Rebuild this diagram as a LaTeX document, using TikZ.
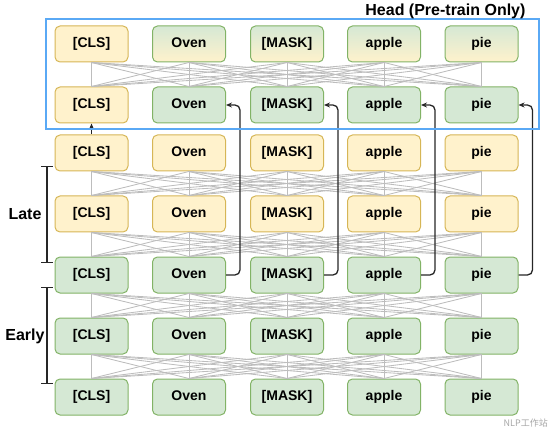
\documentclass[tikz,border=0pt]{standalone}
\usepackage{fontspec}
\setmainfont{Liberation Sans}
\newfontfamily\cjkfont{Noto Sans CJK SC}
\usetikzlibrary{arrows.meta}
\definecolor{yfill}{HTML}{FFF2CC}
\definecolor{ydraw}{HTML}{D6B656}
\definecolor{gfill}{HTML}{D5E8D4}
\definecolor{gdraw}{HTML}{82B366}
\definecolor{headblue}{HTML}{5AA9F5}
\definecolor{linkgray}{HTML}{BDBDBD}
\definecolor{arrowc}{HTML}{262626}
\tikzset{
  tok/.style={rounded corners=5pt, minimum width=73pt, minimum height=36pt,
    line width=1pt, inner sep=0pt, text height=10.5pt, text depth=3pt,
    font=\fontsize{14}{16}\selectfont\bfseries},
  ytok/.style={tok, fill=yfill, draw=ydraw},
  gtok/.style={tok, fill=gfill, draw=gdraw},
  mtok/.style={tok, top color=gfill, bottom color=yfill, draw=gdraw},
  link/.style={draw=linkgray, line width=0.85pt},
  arr/.style={draw=arrowc, line width=1.3pt, rounded corners=5pt,
    -{Stealth[length=6pt,width=5pt]}},
  brk/.style={draw=arrowc, line width=1.1pt,
    {Bar[width=12pt]}-{Bar[width=12pt]}},
  headbox/.style={draw=headblue, line width=1.3pt},
  lbl/.style={font=\fontsize{16}{18}\selectfont\bfseries}
}
\begin{document}
\begin{tikzpicture}[x=1pt,y=-1pt]
\useasboundingbox (0,0) rectangle (550,428);

% row 1 (head, top)
\node[ytok] (r1c1) at (91.5,44) {[CLS]};
\foreach \x/\t [count=\c from 2] in {189/Oven,287/{[MASK]},384/apple,481.5/pie}
  \node[mtok] (r1c\c) at (\x,44) {\t};
% row 2 (head, bottom)
\node[ytok] (r2c1) at (91.5,105) {[CLS]};
\foreach \x/\t [count=\c from 2] in {189/Oven,287/{[MASK]},384/apple,481.5/pie}
  \node[gtok] (r2c\c) at (\x,105) {\t};
% rows 3-4 (late)
\foreach \r/\y in {3/153,4/214}
  \foreach \x/\t [count=\c] in {91.5/{[CLS]},189/Oven,287/{[MASK]},384/apple,481.5/pie}
    \node[ytok] (r\r c\c) at (\x,\y) {\t};
% rows 5-7 (early)
\foreach \r/\y in {5/275,6/336,7/397}
  \foreach \x/\t [count=\c] in {91.5/{[CLS]},189/Oven,287/{[MASK]},384/apple,481.5/pie}
    \node[gtok] (r\r c\c) at (\x,\y) {\t};

% dense connections
\foreach \a/\b in {1/2,3/4,4/5,5/6,6/7}
  \foreach \i in {1,...,5}
    \foreach \j in {1,...,5}
      \draw[link] (r\a c\i.south) -- (r\b c\j.north);

% arrows
\draw[arr] (r3c1.north) -- (r2c1.south);
\foreach \i in {2,...,5}
  \draw[arr] (r5c\i.east) -- ++(14,0) |- (r2c\i.east);

% head box and title
\draw[headbox] (46,19) rectangle (539,129);
\node[lbl, anchor=base east] (head) at (529,16) {Head (Pre-train Only)};

% brackets
\draw[brk] (47,166) -- (47,263);
\draw[brk] (47,287) -- (47,384);
\node[lbl] (late) at (25,214) {Late};
\node[lbl] (early) at (25,336) {Early};

% watermark
\node[text=gray!70, inner sep=0pt, anchor=south east,
  font=\cjkfont\fontsize{9}{10}\selectfont] (wm) at (548,427) {NLP工作站};
\end{tikzpicture}
\end{document}
